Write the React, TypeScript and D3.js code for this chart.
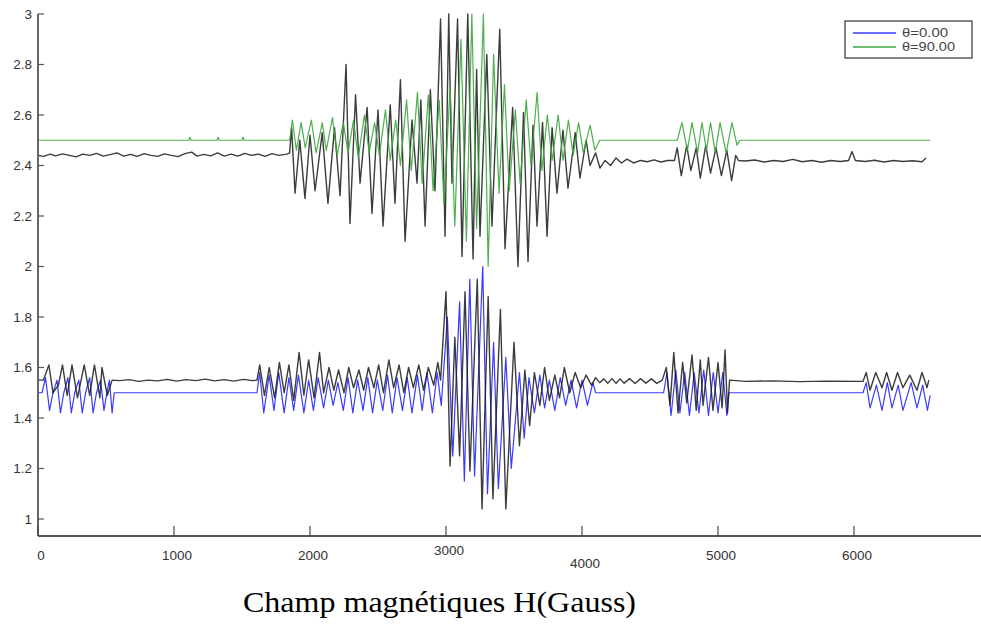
import React from "react";
import * as d3 from "d3";

// ---- tick labels ----
const xTicks = [0, 1000, 2000, 3000, 4000, 5000, 6000];
const yTicks = [1, 1.2, 1.4, 1.6, 1.8, 2, 2.2, 2.4, 2.6, 2.8, 3];
const legendLabels = ["θ=0.00", "θ=90.00"];
const xLabel = "Champ magnétiques H(Gauss)";

// ---- series (x, value) ----
const blueTheta0: [number, number][] = [
  [0, 1.5], [30, 1.5], [55, 1.56], [85, 1.43], [110, 1.5], [140, 1.55], [165, 1.42], [190, 1.5],
  [220, 1.56], [245, 1.42], [270, 1.5], [300, 1.55], [325, 1.42], [350, 1.5], [380, 1.56], [405, 1.42],
  [430, 1.5], [460, 1.55], [485, 1.43], [510, 1.51], [525, 1.55], [545, 1.42], [560, 1.5],
  [1610, 1.5], [1630, 1.58], [1660, 1.42], [1700, 1.57], [1735, 1.43], [1770, 1.58], [1810, 1.42],
  [1845, 1.56], [1880, 1.43], [1915, 1.57], [1955, 1.42], [1990, 1.55], [2025, 1.43], [2060, 1.56],
  [2100, 1.44], [2135, 1.55], [2170, 1.45], [2205, 1.54], [2245, 1.43], [2280, 1.56], [2315, 1.42],
  [2350, 1.55], [2390, 1.43], [2425, 1.56], [2460, 1.42], [2495, 1.55], [2535, 1.43], [2570, 1.57],
  [2605, 1.42], [2640, 1.56], [2680, 1.43], [2715, 1.56], [2750, 1.42], [2790, 1.57], [2825, 1.43],
  [2860, 1.58], [2900, 1.42], [2935, 1.58], [2965, 1.45],
  [3010, 1.8], [3050, 1.25], [3100, 1.86], [3135, 1.15], [3175, 1.95], [3210, 1.17], [3270, 2.0],
  [3305, 1.1], [3350, 1.7], [3385, 1.12], [3440, 1.64], [3480, 1.2], [3540, 1.58], [3575, 1.32],
  [3610, 1.56], [3650, 1.42], [3690, 1.57], [3725, 1.44], [3760, 1.55], [3800, 1.43], [3840, 1.56],
  [3880, 1.45], [3920, 1.55], [3960, 1.44], [4000, 1.55], [4040, 1.45], [4080, 1.54], [4100, 1.5],
  [4600, 1.5], [4625, 1.58], [4655, 1.41], [4690, 1.59], [4720, 1.42], [4755, 1.58], [4790, 1.41],
  [4825, 1.58], [4860, 1.42], [4895, 1.59], [4930, 1.41], [4965, 1.58], [5000, 1.42], [5035, 1.58],
  [5065, 1.41], [5080, 1.5],
  [6066, 1.5], [6090, 1.54], [6118, 1.44], [6165, 1.53], [6206, 1.43], [6245, 1.54], [6279, 1.44],
  [6325, 1.53], [6360, 1.43], [6420, 1.54], [6463, 1.44], [6505, 1.53], [6540, 1.43], [6560, 1.49],
];

const greenTheta90: [number, number][] = [
  [0, 2.5], [1110, 2.5], [1118, 2.512], [1126, 2.5], [1316, 2.5], [1324, 2.512], [1332, 2.5],
  [1500, 2.5], [1507, 2.512], [1515, 2.5], [1850, 2.5],
  [1870, 2.58], [1900, 2.46], [1935, 2.57], [1965, 2.47], [2010, 2.58], [2045, 2.45], [2090, 2.57],
  [2120, 2.46], [2165, 2.59], [2200, 2.44], [2245, 2.57], [2280, 2.45], [2320, 2.58], [2355, 2.43],
  [2400, 2.6], [2435, 2.45], [2475, 2.57], [2510, 2.44], [2555, 2.62], [2590, 2.42], [2630, 2.58],
  [2665, 2.4], [2710, 2.66], [2745, 2.38], [2790, 2.69], [2825, 2.33], [2870, 2.68], [2905, 2.3],
  [2950, 2.66], [2985, 2.25], [3030, 2.71], [3065, 2.16], [3110, 2.9], [3150, 2.1], [3190, 3.0],
  [3225, 2.15], [3275, 3.0], [3310, 2.0], [3350, 2.84], [3390, 2.29], [3430, 2.72], [3465, 2.3],
  [3510, 2.62], [3545, 2.33], [3590, 2.66], [3625, 2.4], [3670, 2.69], [3705, 2.38], [3745, 2.6],
  [3780, 2.42], [3825, 2.6], [3860, 2.42], [3900, 2.58], [3935, 2.44], [3975, 2.57], [4010, 2.45],
  [4060, 2.56], [4095, 2.46], [4130, 2.5],
  [4700, 2.5], [4735, 2.57], [4775, 2.46], [4809, 2.57], [4850, 2.45], [4882, 2.57], [4915, 2.46],
  [4945, 2.57], [4980, 2.45], [5015, 2.57], [5060, 2.45], [5103, 2.57], [5140, 2.48], [5160, 2.5],
  [6560, 2.5],
];

const blackUpper: [number, number][] = [
  [0, 2.44], [40, 2.436], [90, 2.445], [130, 2.438], [180, 2.446], [230, 2.44], [280, 2.434],
  [330, 2.445], [380, 2.44], [430, 2.448], [480, 2.437], [530, 2.443], [580, 2.45], [630, 2.437],
  [680, 2.444], [730, 2.436], [780, 2.447], [830, 2.44], [880, 2.436], [930, 2.446], [980, 2.44],
  [1030, 2.435], [1080, 2.447], [1130, 2.453], [1170, 2.437], [1220, 2.444], [1270, 2.438],
  [1320, 2.45], [1370, 2.437], [1420, 2.445], [1470, 2.437], [1520, 2.448], [1570, 2.44],
  [1620, 2.445], [1670, 2.436], [1720, 2.447], [1770, 2.44], [1830, 2.445], [1850, 2.45],
  [1865, 2.55], [1890, 2.29], [1925, 2.5], [1963, 2.27], [2000, 2.52], [2037, 2.3], [2090, 2.53],
  [2132, 2.25], [2180, 2.55], [2221, 2.28], [2265, 2.8], [2294, 2.17], [2335, 2.68], [2368, 2.33],
  [2420, 2.63], [2456, 2.21], [2500, 2.62], [2537, 2.16], [2590, 2.64], [2625, 2.25], [2665, 2.74],
  [2699, 2.1], [2750, 2.58], [2787, 2.33], [2815, 2.66], [2846, 2.16], [2885, 2.7], [2919, 2.3],
  [2960, 2.98], [2993, 2.12], [3020, 3.0], [3044, 2.33], [3085, 2.98], [3118, 2.04], [3160, 3.0],
  [3199, 2.03], [3225, 2.78], [3250, 2.12], [3300, 2.84], [3338, 2.16], [3395, 2.94], [3434, 2.07],
  [3490, 2.63], [3529, 2.0], [3570, 2.61], [3603, 2.02], [3640, 2.56], [3669, 2.16], [3710, 2.57],
  [3743, 2.12], [3780, 2.55], [3816, 2.29], [3860, 2.54], [3897, 2.31], [3950, 2.53], [3985, 2.35],
  [4030, 2.5], [4059, 2.4], [4100, 2.45], [4132, 2.39],
  [4170, 2.42], [4210, 2.4], [4250, 2.43], [4290, 2.41], [4330, 2.425], [4380, 2.41], [4430, 2.42],
  [4480, 2.415], [4530, 2.422], [4580, 2.414], [4630, 2.42], [4680, 2.42],
  [4700, 2.47], [4730, 2.36], [4770, 2.48], [4800, 2.38], [4840, 2.47], [4870, 2.35], [4910, 2.48],
  [4945, 2.37], [4985, 2.47], [5025, 2.36], [5065, 2.46], [5100, 2.34], [5130, 2.44], [5150, 2.42],
  [5200, 2.418], [5270, 2.422], [5340, 2.414], [5410, 2.42], [5480, 2.416], [5550, 2.424],
  [5620, 2.415], [5690, 2.42], [5760, 2.413], [5830, 2.42], [5900, 2.416], [5960, 2.42],
  [5985, 2.455], [6010, 2.42], [6080, 2.416], [6150, 2.421], [6220, 2.414], [6290, 2.42],
  [6360, 2.416], [6430, 2.419], [6500, 2.415], [6530, 2.43],
];

const blackLower: [number, number][] = [
  [0, 1.55], [40, 1.55], [80, 1.61], [110, 1.5], [150, 1.53], [180, 1.61], [215, 1.49], [250, 1.61],
  [290, 1.48], [340, 1.61], [380, 1.49], [415, 1.61], [455, 1.48], [470, 1.6], [510, 1.49], [545, 1.55],
  [600, 1.548], [670, 1.552], [740, 1.545], [810, 1.55], [880, 1.547], [950, 1.553], [1020, 1.546],
  [1090, 1.552], [1160, 1.548], [1230, 1.554], [1300, 1.547], [1370, 1.552], [1440, 1.546],
  [1510, 1.553], [1580, 1.548], [1610, 1.55],
  [1630, 1.61], [1665, 1.49], [1700, 1.6], [1740, 1.48], [1775, 1.62], [1810, 1.5], [1845, 1.61],
  [1880, 1.47], [1920, 1.66], [1955, 1.49], [1990, 1.63], [2030, 1.48], [2070, 1.66], [2100, 1.5],
  [2140, 1.6], [2175, 1.51], [2210, 1.59], [2250, 1.5], [2285, 1.6], [2320, 1.52], [2360, 1.59],
  [2395, 1.51], [2430, 1.6], [2470, 1.52], [2505, 1.61], [2540, 1.5], [2580, 1.63], [2615, 1.52],
  [2655, 1.61], [2690, 1.5], [2725, 1.6], [2760, 1.52], [2800, 1.61], [2835, 1.51], [2870, 1.6],
  [2910, 1.53], [2940, 1.62], [2960, 1.55],
  [3000, 1.9], [3030, 1.21], [3065, 1.72], [3100, 1.25], [3140, 1.9], [3176, 1.19], [3230, 1.95],
  [3265, 1.04], [3310, 1.88], [3345, 1.08], [3400, 1.83], [3440, 1.04], [3500, 1.7], [3540, 1.29],
  [3580, 1.59], [3615, 1.37], [3650, 1.58], [3690, 1.45], [3725, 1.6], [3760, 1.47], [3800, 1.57],
  [3835, 1.48], [3870, 1.6], [3910, 1.5], [3950, 1.58], [3990, 1.52], [4030, 1.57], [4070, 1.53],
  [4100, 1.56], [4130, 1.54], [4160, 1.555], [4190, 1.538], [4220, 1.556], [4250, 1.537],
  [4280, 1.555], [4310, 1.538], [4350, 1.556], [4390, 1.537], [4430, 1.556], [4470, 1.538],
  [4510, 1.555], [4550, 1.537], [4590, 1.55],
  [4620, 1.6], [4647, 1.45], [4675, 1.66], [4706, 1.42], [4740, 1.62], [4770, 1.46], [4809, 1.65],
  [4840, 1.43], [4870, 1.63], [4890, 1.45], [4930, 1.64], [4963, 1.43], [5000, 1.62], [5030, 1.44],
  [5052, 1.67], [5070, 1.42], [5085, 1.55],
  [5200, 1.545], [5400, 1.547], [5600, 1.544], [5800, 1.546], [6066, 1.545],
  [6090, 1.58], [6118, 1.51], [6160, 1.58], [6206, 1.52], [6240, 1.58], [6279, 1.51], [6320, 1.58],
  [6360, 1.52], [6410, 1.57], [6463, 1.51], [6500, 1.58], [6537, 1.52], [6550, 1.55],
];

const W = 981;
const H = 630;

export default function App() {
  const x = d3.scaleLinear().domain([0, 7000]).range([38, 990]);
  const y = d3.scaleLinear().domain([1, 3]).range([519, 14]);
  const axisBottom = 536;
  const line = d3
    .line<[number, number]>()
    .x((d) => x(d[0]))
    .y((d) => y(d[1]));

  const xLabelDy: Record<number, number> = { 3000: -5, 4000: 8 };

  return (
    <svg
      width={W}
      height={H}
      style={{ position: "absolute", left: 0, top: 0, background: "#fff" }}
      fontFamily="'Liberation Sans', Arial, sans-serif"
    >
      <rect x={0} y={0} width={W} height={H} fill="#fff" />
      <g fill="none" strokeLinejoin="round">
        <path d={line(blueTheta0) || ""} stroke="#3b3bff" strokeWidth={1.2} />
        <path d={line(blackUpper) || ""} stroke="#1a1a1a" strokeWidth={1.4} strokeOpacity={0.85} />
        <path d={line(blackLower) || ""} stroke="#1a1a1a" strokeWidth={1.4} strokeOpacity={0.85} />
        <path d={line(greenTheta90) || ""} stroke="#3aa83a" strokeWidth={1.2} strokeOpacity={0.9} />
      </g>

      {/* axes */}
      <line x1={38} x2={38} y1={y(3)} y2={axisBottom} stroke="#666" strokeWidth={2} />
      <line x1={38} x2={W} y1={axisBottom} y2={axisBottom} stroke="#555" strokeWidth={2} />
      {yTicks.map((t) => (
        <g key={"y" + t}>
          <line x1={38} x2={44} y1={y(t)} y2={y(t)} stroke="#555" strokeWidth={1.2} />
          <text x={32} y={y(t)} dy="0.35em" textAnchor="end" fontSize={13.5} fill="#333">
            {String(t)}
          </text>
        </g>
      ))}
      {xTicks.map((t) => (
        <g key={"x" + t}>
          <line x1={x(t)} x2={x(t)} y1={axisBottom} y2={axisBottom - 10} stroke="#444" strokeWidth={1.2} />
          <text
            x={x(t) + 3}
            y={555 + (xLabelDy[t] || 0)}
            dy="0.35em"
            textAnchor="middle"
            fontSize={13.5}
            fill="#333"
          >
            {String(t)}
          </text>
        </g>
      ))}

      {/* legend */}
      <rect x={845} y={21} width={127} height={37} fill="#fff" stroke="#333" strokeWidth={1.2} />
      <line x1={853} x2={896} y1={33} y2={33} stroke="#3b3bff" strokeWidth={1.5} />
      <text x={902} y={33} dy="0.35em" fontSize={12} textLength={46} lengthAdjust="spacingAndGlyphs" fill="#444">
        {legendLabels[0]}
      </text>
      <line x1={853} x2={896} y1={47} y2={47} stroke="#3aa83a" strokeWidth={1.5} />
      <text x={902} y={47} dy="0.35em" fontSize={12} textLength={53} lengthAdjust="spacingAndGlyphs" fill="#444">
        {legendLabels[1]}
      </text>

      <text
        x={243}
        y={612}
        textLength={393}
        lengthAdjust="spacingAndGlyphs"
        fontFamily="'Liberation Serif', 'Times New Roman', serif"
        fontSize={30}
        fill="#000"
      >
        {xLabel}
      </text>
    </svg>
  );
}
